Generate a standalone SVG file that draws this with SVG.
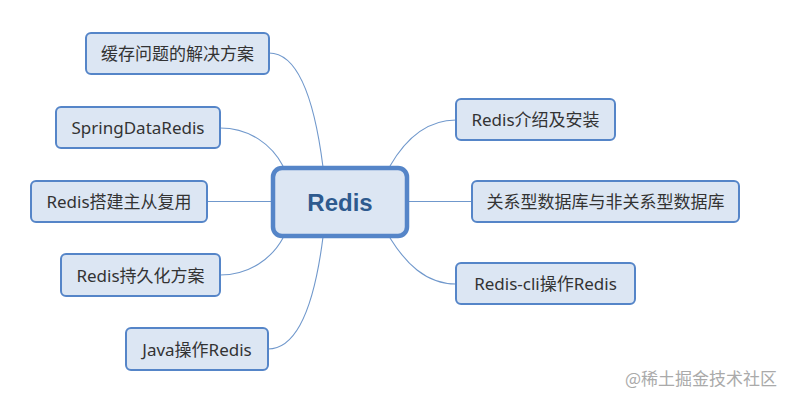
<svg xmlns="http://www.w3.org/2000/svg" width="789" height="400" viewBox="0 0 789 400">
<style>
.leaf rect{fill:#dce6f3;stroke:#5585c8;stroke-width:2}
.leaf text{font-family:"Noto Sans","Noto Sans CJK SC",sans-serif;font-size:17px;fill:#333;text-anchor:middle;dominant-baseline:central}
.conn path{fill:none;stroke:#7098cc;stroke-width:1.1}
</style>
<rect width="789" height="400" fill="#fff"/>
<g class="conn">
<path d="M269,53 C302,53 316,112 323,167"/>
<path d="M220,128 C250,128 272,145 283,166"/>
<path d="M207,201.5 L272,201.5"/>
<path d="M220,275 C250,275 272,258 283,238"/>
<path d="M268,349 C302,349 316,292 323,237"/>
<path d="M456,120 C425,120 405,140 390,166"/>
<path d="M409,201.5 L472,201.5"/>
<path d="M456,284 C425,284 405,262 390,238"/>
</g>
<g id="center">
<rect x="273" y="168" width="134" height="68" rx="9" fill="#dce6f3" stroke="#5585c8" stroke-width="4.5"/>
<text x="340" y="202" font-family="'Liberation Sans',sans-serif" font-weight="bold" font-size="24" fill="#2e5a8e" text-anchor="middle" dominant-baseline="central">Redis</text>
</g>
<g id="n1" class="leaf"><rect x="86" y="33" width="183" height="41" rx="5"/><text x="177.5" y="53.5">缓存问题的解决方案</text></g>
<g id="n2" class="leaf"><rect x="56" y="107" width="164" height="41" rx="5"/><text x="138" y="127.5">SpringDataRedis</text></g>
<g id="n3" class="leaf"><rect x="31" y="181" width="176" height="41" rx="5"/><text x="119" y="201.5">Redis搭建主从复用</text></g>
<g id="n4" class="leaf"><rect x="61" y="254" width="159" height="42" rx="5"/><text x="140.5" y="275">Redis持久化方案</text></g>
<g id="n5" class="leaf"><rect x="126" y="328" width="142" height="42" rx="5"/><text x="197" y="349">Java操作Redis</text></g>
<g id="n6" class="leaf"><rect x="456" y="99" width="159" height="41" rx="5"/><text x="535.5" y="119.5">Redis介绍及安装</text></g>
<g id="n7" class="leaf"><rect x="472" y="181" width="267" height="41" rx="5"/><text x="605.5" y="201.5">关系型数据库与非关系型数据库</text></g>
<g id="n8" class="leaf"><rect x="456" y="263" width="179" height="41" rx="5"/><text x="545.5" y="283.5">Redis-cli操作Redis</text></g>
<text x="777" y="385" font-family="'Noto Sans CJK SC',sans-serif" font-size="17" fill="#aaa" text-anchor="end">@稀土掘金技术社区</text>
</svg>
